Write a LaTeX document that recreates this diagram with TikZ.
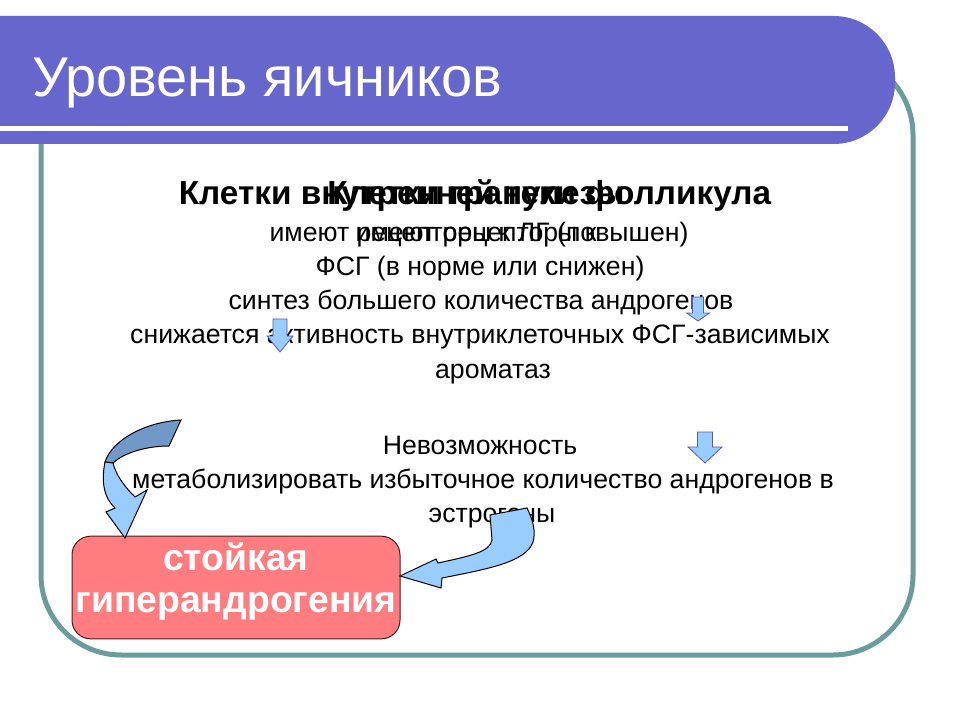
\documentclass[tikz,border=0pt]{standalone}
\usepackage{fontspec}
\setmainfont{Liberation Sans}
\usetikzlibrary{positioning}
\definecolor{titleblue}{HTML}{6666CC}
\definecolor{frameteal}{HTML}{6A9C9C}
\definecolor{boxred}{HTML}{FF7C80}
\definecolor{boxedge}{HTML}{4A1C1C}
\definecolor{arrowblue}{HTML}{99CCFF}
\definecolor{arrowdark}{HTML}{7099C8}

\begin{document}
\begin{tikzpicture}[
    x=0.75pt, y=-0.75pt,
    every node/.style={inner sep=0pt, anchor=base},
    head/.style={font=\fontsize{25}{30}\selectfont\bfseries},
    body/.style={font=\fontsize{20}{24}\selectfont},
    blockarrow/.style={fill=arrowblue, draw=blue!30!gray, line width=0.6pt},
    bendarrow/.style={fill=arrowblue, draw=black, line width=0.75pt}
]
\useasboundingbox (0,0) rectangle (960,720);

% frame and title bar
\draw[frameteal, line width=3.75pt, rounded corners=60pt] (41,55) rectangle (913,655);
\fill[titleblue, rounded corners=46pt] (-100,16) rectangle (895,144);
\draw[white, line width=3.75pt] (-5,128.5) -- (848,128.5);
\node[anchor=base west, text=white, font=\fontsize{42}{50}\selectfont] (title) at (32,97) {Уровень яичников};

% two text boxes lying over each other
\node[head] (teka) at (475,205) {Клетки внутренней теки фолликула};
\node[head] (granul) at (476,205) {Клетки гранулезы};
\node[body] (tekaLG) at (479,242) {имеют рецепторы к ЛГ (повышен)};
\node[body] (granulR) at (476,242) {имеют рецепторы к};
\node[body] (granulFSG) at (480,276) {ФСГ (в норме или снижен)};
\node[body] (sintez) at (481,310) {синтез большего количества андрогенов};
\node[body] (aktiv) at (480,344) {снижается активность внутриклеточных ФСГ-зависимых};
\node[body] (aromat) at (493,378) {ароматаз};
\node[body] (nevozm) at (480,454) {Невозможность};
\node[body] (metab) at (483,488) {метаболизировать избыточное количество андрогенов в};
\node[body] (estrog) at (492,522) {эстрогены};

% result box
\node[anchor=center, draw=boxedge, fill=boxred, line width=0.75pt, rounded corners=14pt,
      minimum width=246pt, minimum height=77pt] (giper) at (236,587.5) {};
\node[text=white, font=\fontsize{28}{31.5}\selectfont\bfseries] (stoik) at (236,570) {стойкая};
\node[text=white, font=\fontsize{28}{31.5}\selectfont\bfseries] (androg) at (236,612) {гиперандрогения};

% small down arrows
\foreach \x/\t/\b/\s/\h/\l in {280/319/352/7/13/16, 698/297/321/5.5/11.5/8, 705/432/463/7.5/17/16}
    \draw[blockarrow] ({\x-\s},\t) -- ({\x+\s},\t) -- ({\x+\s},{\b-\l}) -- ({\x+\h},{\b-\l})
        -- (\x,\b) -- ({\x-\h},{\b-\l}) -- ({\x-\s},{\b-\l}) -- cycle;

% curved arrows into the box
\draw[bendarrow, fill=arrowdark] (181,420) .. controls (145,422) and (112,440) .. (105,462)
    -- (113,463) .. controls (125,452) and (148,446) .. (169,446) -- cycle;
\draw[bendarrow] (105,462) .. controls (101,482) and (104,498) .. (115,508) -- (106,512)
    -- (125,538) -- (147,490) -- (135,497) .. controls (124,486) and (116,475) .. (113,463) -- cycle;
\draw[bendarrow] (490,515) -- (527,508) .. controls (533,520) and (536,532) .. (533,542)
    .. controls (526,562) and (488,569) .. (442,578) -- (441,588) -- (400,576) -- (436,559)
    -- (438,563) .. controls (470,556) and (490,552) .. (492,540) -- cycle;
\end{tikzpicture}
\end{document}
